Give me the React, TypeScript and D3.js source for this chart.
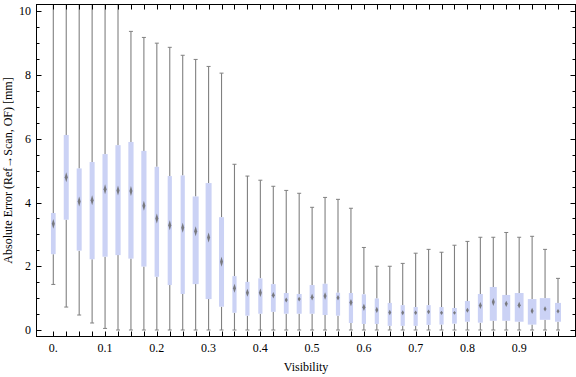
import React from "react";
import * as d3 from "d3";

const visibility = d3.range(40).map((i) => i * 0.025);
const whiskerLow = [1.43, 0.72, 0.47, 0.22, 0.05, 0, 0, 0, 0, 0, 0, 0, 0, 0, 0, 0, 0, 0, 0, 0, 0, 0, 0, 0, 0, 0, 0, 0, 0, 0, 0, 0, 0, 0, 0, 0, 0, 0, 0, 0];
const q1 = [2.38, 3.46, 2.49, 2.22, 2.3, 2.35, 2.24, 1.99, 1.67, 1.41, 1.13, 1.44, 0.97, 0.73, 0.54, 0.45, 0.51, 0.57, 0.51, 0.51, 0.51, 0.47, 0.45, 0.22, 0.19, 0.19, 0.13, 0.13, 0.13, 0.16, 0.17, 0.2, 0.26, 0.23, 0.29, 0.29, 0.26, 0.17, 0.32, 0.26];
const median = [3.33, 4.79, 4.03, 4.07, 4.42, 4.38, 4.36, 3.9, 3.5, 3.29, 3.21, 3.1, 2.9, 2.14, 1.31, 1.17, 1.17, 1.09, 0.94, 0.97, 1.03, 1.07, 1.01, 0.86, 0.71, 0.63, 0.55, 0.54, 0.54, 0.57, 0.54, 0.54, 0.62, 0.77, 0.88, 0.82, 0.78, 0.6, 0.66, 0.59];
const q3 = [3.67, 6.12, 5.07, 5.27, 5.52, 5.8, 5.9, 5.62, 5.12, 4.83, 4.85, 4.19, 4.61, 3.54, 1.69, 1.51, 1.62, 1.44, 1.16, 1.13, 1.41, 1.45, 1.17, 1.16, 1.12, 0.99, 0.85, 0.78, 0.72, 0.78, 0.72, 0.69, 0.91, 1.13, 1.35, 1.1, 1.16, 0.97, 1.0, 0.85];
const whiskerHigh = [12, 12, 12, 12, 12, 12, 9.37, 9.18, 9.0, 8.87, 8.62, 8.49, 8.27, 8.06, 5.2, 4.83, 4.7, 4.51, 4.38, 4.29, 3.85, 4.16, 4.1, 3.82, 2.59, 2.0, 2.0, 2.09, 2.41, 2.53, 2.44, 2.66, 2.78, 2.91, 2.91, 3.06, 2.91, 2.94, 2.53, 1.62];
const boxWeight = [47, 50, 50, 50, 52, 52, 52, 52, 45, 42, 42, 60, 60, 50, 42, 42, 42, 48, 48, 50, 50, 50, 42, 42, 42, 42, 42, 42, 42, 42, 42, 47, 50, 50, 70, 80, 88, 86, 105, 60];

const yTickValues = [0, 2, 4, 6, 8, 10];
const yMinorValues = d3.range(0, 10.01, 0.5);
const xLabelValues = [0, 0.1, 0.2, 0.3, 0.4, 0.5, 0.6, 0.7, 0.8, 0.9];
const xLabelTexts = ["0.", "0.1", "0.2", "0.3", "0.4", "0.5", "0.6", "0.7", "0.8", "0.9"];

const W = 576;
const H = 377;
const left = 36.5;
const right = 575.5;
const top = 4.5;
const bottom = 336.5;

export default function App() {
  const x = d3.scaleLinear().domain([0, 0.975]).range([53.3, 558]);
  const y = d3.scaleLinear().domain([0, 10]).range([330, 11.3]);
  const wScale = d3.scaleLinear().domain([0, 100]).range([0, 10]);
  const font = "'Liberation Serif', 'DejaVu Serif', serif";
  const gray = "#808080";

  return (
    <div style={{ position: "absolute", left: 0, top: 0 }}>
      <svg width={W} height={H} style={{ display: "block", background: "#fff" }}>
        <defs>
          <clipPath id="plot">
            <rect x={left} y={top} width={right - left} height={bottom - top} />
          </clipPath>
          <filter id="soft" x="-1" y="-1" width="3" height="3">
            <feGaussianBlur stdDeviation="0.45" />
          </filter>
        </defs>
        <g clipPath="url(#plot)">
          {visibility.map((v, i) => {
            const cx = x(v);
            const bw = wScale(boxWeight[i]);
            const yq1 = y(q1[i]);
            const yq3 = y(q3[i]);
            const ym = y(median[i]);
            const hh = Math.max(1.6, Math.min(5, (yq1 - yq3) * 0.12));
            return (
              <g key={i}>
                <line x1={cx} x2={cx} y1={y(whiskerHigh[i])} y2={yq3} stroke={gray} strokeWidth={1.1} />
                <line x1={cx} x2={cx} y1={yq1} y2={y(whiskerLow[i])} stroke={gray} strokeWidth={1.1} />
                <line x1={cx - 2} x2={cx + 2} y1={y(whiskerHigh[i])} y2={y(whiskerHigh[i])} stroke={gray} strokeWidth={1} />
                <line x1={cx - 2} x2={cx + 2} y1={y(whiskerLow[i])} y2={y(whiskerLow[i])} stroke={gray} strokeWidth={1} />
                <rect x={cx - bw / 2} y={yq3} width={bw} height={yq1 - yq3} fill="#cbd2f5" />
                <path
                  d={`M${cx},${ym - hh} L${cx + 1.5},${ym} L${cx},${ym + hh} L${cx - 1.5},${ym} Z`}
                  fill="#6a6a6a"
                  opacity={0.85}
                  filter="url(#soft)"
                />
              </g>
            );
          })}
        </g>
        <rect x={left} y={top} width={right - left} height={bottom - top} fill="none" stroke="#000" strokeWidth={1} />
        {visibility.map((v, i) => (
          <g key={"xt" + i}>
            <line x1={Math.round(x(v)) + 0.5} x2={Math.round(x(v)) + 0.5} y1={bottom} y2={bottom - 5} stroke="#000" strokeWidth={1} />
            <line x1={Math.round(x(v)) + 0.5} x2={Math.round(x(v)) + 0.5} y1={top} y2={top + 5} stroke="#000" strokeWidth={1} />
          </g>
        ))}
        {yMinorValues.map((v, i) => {
          const major = Math.abs(v % 2) < 1e-6;
          const len = major ? 5 : 3;
          const yy = Math.round(y(v)) + 0.5;
          return (
            <g key={"yt" + i}>
              <line x1={left} x2={left + len} y1={yy} y2={yy} stroke="#000" strokeWidth={1} />
              <line x1={right} x2={right - len} y1={yy} y2={yy} stroke="#000" strokeWidth={1} />
            </g>
          );
        })}
        {yTickValues.map((v) => (
          <text key={"yl" + v} x={31} y={y(v) + 4} textAnchor="end" fontFamily={font} fontSize={12} fill="#000">
            {v}
          </text>
        ))}
        {xLabelValues.map((v, i) => (
          <text key={"xl" + i} x={x(v)} y={351.5} textAnchor="middle" fontFamily={font} fontSize={12} fill="#000">
            {xLabelTexts[i]}
          </text>
        ))}
        <text x={(left + right) / 2} y={371} textAnchor="middle" fontFamily={font} fontSize={12} fill="#000">
          Visibility
        </text>
        <text
          transform={`translate(12, ${(top + bottom) / 2}) rotate(-90)`}
          textAnchor="middle"
          fontFamily={font}
          fontSize={12}
          fill="#000"
        >
          Absolute Error (Ref→Scan, OF) [mm]
        </text>
      </svg>
    </div>
  );
}
